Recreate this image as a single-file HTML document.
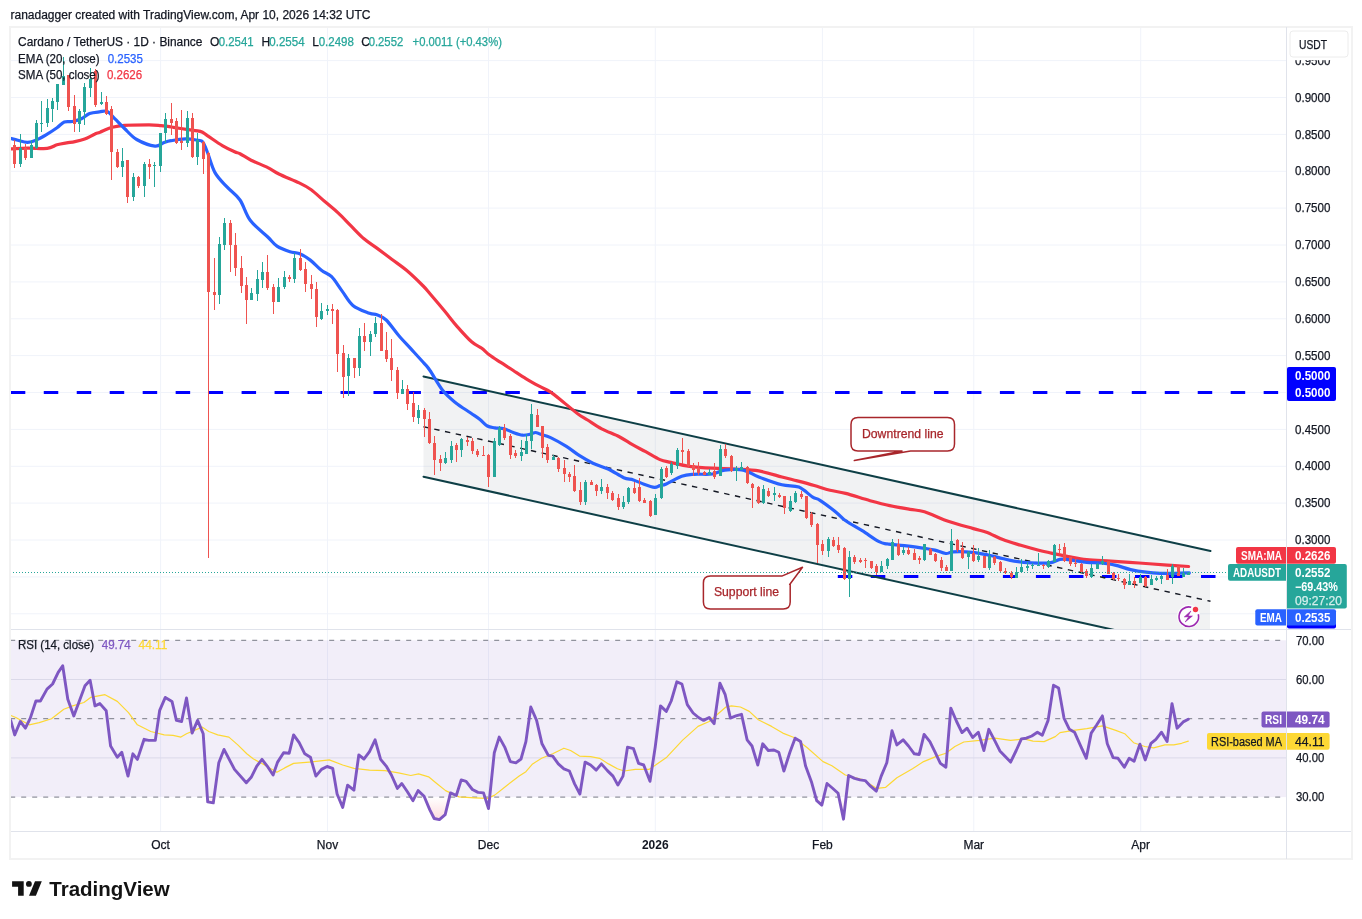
<!DOCTYPE html>
<html><head><meta charset="utf-8"><style>
html,body{margin:0;padding:0;background:#fff;width:1362px;height:919px;overflow:hidden;position:relative}
text{font-family:"Liberation Sans",sans-serif}
</style></head><body>
<svg width="1362" height="919" viewBox="0 0 1362 919" style="position:absolute;left:0;top:0;will-change:transform" font-family="Liberation Sans, sans-serif">
<defs><clipPath id="main"><rect x="10" y="27" width="1276" height="602"/></clipPath><clipPath id="rsi"><rect x="10" y="630" width="1276" height="201"/></clipPath><linearGradient id="os" x1="0" y1="0" x2="0" y2="1"><stop offset="0" stop-color="#f23645" stop-opacity="0"/><stop offset="1" stop-color="#f23645" stop-opacity="0.18"/></linearGradient></defs>
<rect width="1362" height="919" fill="#fff"/>
<text x="10.5" y="19" font-size="12" fill="#131722" text-anchor="start" font-weight="400" textLength="360" lengthAdjust="spacingAndGlyphs" stroke="#131722" stroke-width="0.25" >ranadagger created with TradingView.com, Apr 10, 2026 14:32 UTC</text>
<line x1="10" y1="60.6" x2="1286" y2="60.6" stroke="#f0f3fa" stroke-width="1"/>
<line x1="10" y1="97.5" x2="1286" y2="97.5" stroke="#f0f3fa" stroke-width="1"/>
<line x1="10" y1="134.4" x2="1286" y2="134.4" stroke="#f0f3fa" stroke-width="1"/>
<line x1="10" y1="171.3" x2="1286" y2="171.3" stroke="#f0f3fa" stroke-width="1"/>
<line x1="10" y1="208.1" x2="1286" y2="208.1" stroke="#f0f3fa" stroke-width="1"/>
<line x1="10" y1="245.0" x2="1286" y2="245.0" stroke="#f0f3fa" stroke-width="1"/>
<line x1="10" y1="281.9" x2="1286" y2="281.9" stroke="#f0f3fa" stroke-width="1"/>
<line x1="10" y1="318.8" x2="1286" y2="318.8" stroke="#f0f3fa" stroke-width="1"/>
<line x1="10" y1="355.6" x2="1286" y2="355.6" stroke="#f0f3fa" stroke-width="1"/>
<line x1="10" y1="392.5" x2="1286" y2="392.5" stroke="#f0f3fa" stroke-width="1"/>
<line x1="10" y1="429.4" x2="1286" y2="429.4" stroke="#f0f3fa" stroke-width="1"/>
<line x1="10" y1="466.3" x2="1286" y2="466.3" stroke="#f0f3fa" stroke-width="1"/>
<line x1="10" y1="503.1" x2="1286" y2="503.1" stroke="#f0f3fa" stroke-width="1"/>
<line x1="10" y1="540.0" x2="1286" y2="540.0" stroke="#f0f3fa" stroke-width="1"/>
<line x1="10" y1="576.9" x2="1286" y2="576.9" stroke="#f0f3fa" stroke-width="1"/>
<line x1="10" y1="613.8" x2="1286" y2="613.8" stroke="#f0f3fa" stroke-width="1"/>
<line x1="160.6" y1="27" x2="160.6" y2="831" stroke="#f0f3fa" stroke-width="1"/>
<line x1="327.5" y1="27" x2="327.5" y2="831" stroke="#f0f3fa" stroke-width="1"/>
<line x1="488.5" y1="27" x2="488.5" y2="831" stroke="#f0f3fa" stroke-width="1"/>
<line x1="655.3" y1="27" x2="655.3" y2="831" stroke="#f0f3fa" stroke-width="1"/>
<line x1="822.4" y1="27" x2="822.4" y2="831" stroke="#f0f3fa" stroke-width="1"/>
<line x1="973.8" y1="27" x2="973.8" y2="831" stroke="#f0f3fa" stroke-width="1"/>
<line x1="1140.7" y1="27" x2="1140.7" y2="831" stroke="#f0f3fa" stroke-width="1"/>
<line x1="10" y1="679.5" x2="1286" y2="679.5" stroke="#e6e8ee" stroke-width="1"/>
<line x1="10" y1="757.9" x2="1286" y2="757.9" stroke="#e6e8ee" stroke-width="1"/>
<rect x="10" y="640.3" width="1276" height="156.8" fill="#7e57c2" fill-opacity="0.1"/>
<line x1="10.2" y1="640.3" x2="1286" y2="640.3" stroke="#787b86" stroke-width="1" stroke-dasharray="5 6"/>
<line x1="10.2" y1="718.7" x2="1286" y2="718.7" stroke="#787b86" stroke-width="1" stroke-dasharray="5 6"/>
<line x1="10.2" y1="797.1" x2="1286" y2="797.1" stroke="#787b86" stroke-width="1" stroke-dasharray="5 6"/>
<g clip-path="url(#main)">
<polygon points="423.5,376.5 1210,551.0 1210,651.2 423.5,476.7" fill="#787b86" fill-opacity="0.1"/>
<line x1="10.8" y1="392.5" x2="1286" y2="392.5" stroke="#0000ff" stroke-width="3" stroke-dasharray="14.5 18.47"/>
<line x1="837.8" y1="576.5" x2="1216" y2="576.5" stroke="#0000ff" stroke-width="3" stroke-dasharray="14.5 18.52"/>
<line x1="423.5" y1="376.5" x2="1210.5" y2="551.1" stroke="#0e3f46" stroke-width="2" stroke-linecap="round"/>
<line x1="423.5" y1="476.7" x2="1210.5" y2="651.3" stroke="#0e3f46" stroke-width="2" stroke-linecap="round"/>
<line x1="423.5" y1="426.7" x2="1210.5" y2="601.3" stroke="#131722" stroke-width="1.4" stroke-dasharray="5.4 5.6"/>
<path d="M10.4,148.9 C13.3,148.8 21.5,148.2 27.6,148.1 C33.7,148.0 42.3,148.9 47.2,148.4 C52.1,147.9 53.8,145.7 57.0,144.8 C60.2,143.9 63.7,143.4 66.7,142.9 C69.7,142.4 71.9,142.2 74.9,141.6 C77.9,141.0 81.4,140.3 84.7,139.1 C88.0,137.9 92.0,135.3 94.5,134.2 C97.0,133.0 97.0,133.3 100.0,132.2 C103.0,131.0 108.1,128.4 112.2,127.3 C116.3,126.2 118.4,125.7 124.5,125.3 C130.6,124.9 142.9,124.8 149.0,124.8 C155.1,124.8 156.9,125.2 161.0,125.6 C165.1,126.0 168.9,126.6 173.4,127.3 C177.9,128.0 183.5,129.0 188.0,129.7 C192.5,130.4 197.0,130.4 200.3,131.4 C203.6,132.4 204.0,133.5 207.7,135.9 C211.4,138.3 217.8,142.9 222.3,145.6 C226.8,148.2 231.7,150.5 234.6,151.8 C237.5,153.2 237.2,152.3 240.0,153.7 C242.8,155.1 246.5,157.9 251.1,160.2 C255.7,162.5 263.2,165.3 267.8,167.6 C272.4,169.9 273.7,171.4 278.9,174.0 C284.1,176.6 293.8,180.3 299.2,182.9 C304.6,185.5 306.9,186.7 311.2,189.8 C315.5,193.0 320.6,198.0 325.1,201.8 C329.6,205.7 333.8,208.9 338.1,212.9 C342.4,216.9 346.7,221.6 351.0,225.9 C355.3,230.2 359.7,235.1 364.0,238.8 C368.3,242.5 372.3,244.7 376.9,248.1 C381.5,251.5 386.8,255.5 391.7,259.2 C396.6,262.9 401.2,265.8 406.5,270.3 C411.8,274.8 419.3,282.1 423.2,286.0 C427.1,289.9 426.4,289.5 430.0,293.7 C433.6,297.9 440.3,305.9 444.8,311.3 C449.3,316.7 452.3,321.0 456.8,326.1 C461.3,331.2 467.4,338.1 471.6,341.8 C475.8,345.5 478.9,346.1 481.8,348.3 C484.7,350.5 486.1,352.5 489.2,354.8 C492.3,357.1 496.3,359.6 500.3,362.2 C504.3,364.8 509.0,367.7 513.3,370.5 C517.6,373.3 521.9,376.2 526.2,378.8 C530.5,381.4 535.2,384.0 539.2,386.2 C543.2,388.4 546.3,389.2 550.3,391.8 C554.3,394.4 558.6,398.2 563.2,401.9 C567.8,405.6 573.9,411.0 578.0,414.0 C582.1,417.0 583.6,417.5 587.6,420.0 C591.6,422.5 596.4,426.0 601.7,428.8 C607.0,431.6 614.2,434.1 619.3,436.7 C624.4,439.3 628.1,442.2 632.5,444.7 C636.9,447.2 641.1,449.2 645.7,451.7 C650.3,454.2 655.8,457.8 660.0,459.6 C664.2,461.4 666.0,461.3 670.9,462.4 C675.8,463.5 682.5,465.4 689.4,466.3 C696.3,467.2 704.8,467.7 712.5,468.1 C720.2,468.6 727.9,468.5 735.6,469.0 C743.3,469.5 751.1,469.6 758.8,470.9 C766.5,472.2 775.5,475.3 781.9,477.0 C788.3,478.7 791.9,479.5 797.3,480.9 C802.7,482.3 808.8,483.9 814.3,485.5 C819.8,487.1 824.8,488.9 830.0,490.2 C835.2,491.5 838.9,491.6 845.6,493.4 C852.3,495.1 862.8,498.7 870.1,500.7 C877.5,502.7 883.1,504.2 889.7,505.6 C896.4,507.0 904.2,508.3 910.0,509.3 C915.8,510.3 918.0,509.8 924.5,511.8 C931.0,513.9 940.9,518.8 949.0,521.6 C957.1,524.4 967.1,526.8 973.4,528.6 C979.6,530.4 981.6,530.4 986.5,532.2 C991.4,534.0 997.1,537.4 1002.8,539.6 C1008.5,541.8 1014.8,543.5 1020.8,545.3 C1026.8,547.1 1033.6,548.9 1038.7,550.2 C1043.8,551.5 1046.4,552.0 1051.3,553.1 C1056.2,554.2 1062.4,555.5 1068.3,556.6 C1074.2,557.7 1079.6,559.0 1086.7,559.7 C1093.8,560.5 1102.1,560.6 1110.8,561.1 C1119.5,561.6 1129.6,562.3 1139.0,563.0 C1148.4,563.7 1159.1,564.5 1167.4,565.1 C1175.7,565.7 1185.1,566.3 1188.6,566.5" fill="none" stroke="#f23645" stroke-width="3.2" stroke-linejoin="round" stroke-linecap="round"/>
<path d="M10.4,138.3 C11.6,138.6 14.9,139.6 17.8,140.3 C20.7,141.0 24.5,142.5 27.6,142.4 C30.7,142.3 33.2,141.4 36.5,140.0 C39.8,138.6 43.8,136.2 47.2,134.2 C50.6,132.1 54.1,129.7 57.0,127.7 C59.9,125.7 61.7,123.0 64.3,122.0 C66.9,121.0 69.6,122.0 72.4,121.5 C75.2,121.0 78.5,120.0 81.4,118.7 C84.3,117.4 86.6,114.6 89.6,113.5 C92.6,112.4 96.5,112.2 99.4,111.9 C102.4,111.6 104.8,110.3 107.3,111.4 C109.8,112.5 111.8,115.9 114.7,118.7 C117.6,121.5 120.8,125.0 124.5,128.5 C128.2,132.0 131.6,136.6 136.7,139.5 C141.8,142.4 150.5,145.6 155.0,146.1 C159.5,146.6 160.9,143.6 163.6,142.7 C166.3,141.8 167.3,141.3 171.0,140.7 C174.7,140.0 181.1,138.9 185.6,138.8 C190.1,138.7 195.0,139.8 197.9,140.3 C200.8,140.8 201.2,139.9 202.8,142.0 C204.4,144.1 205.7,147.9 207.7,153.0 C209.7,158.1 211.8,166.9 215.0,172.6 C218.2,178.3 223.0,182.6 227.2,187.2 C231.4,191.8 236.2,194.5 240.0,200.0 C243.8,205.5 245.6,214.1 250.2,220.3 C254.8,226.5 263.3,232.7 267.8,237.0 C272.3,241.3 273.3,243.7 277.0,246.2 C280.7,248.7 286.3,250.6 290.0,251.8 C293.7,253.0 295.8,252.2 299.2,253.6 C302.6,255.0 306.6,257.3 310.3,260.1 C314.0,262.9 317.8,267.5 321.4,270.3 C324.9,273.1 328.2,273.3 331.6,276.7 C335.0,280.1 338.2,285.8 341.8,290.6 C345.4,295.4 348.3,301.6 352.9,305.4 C357.5,309.2 365.5,311.6 369.5,313.2 C373.5,314.8 374.1,313.6 376.9,314.7 C379.7,315.8 382.6,316.5 386.2,320.0 C389.8,323.5 394.6,330.7 398.7,335.5 C402.8,340.3 406.7,344.2 411.0,348.9 C415.3,353.6 421.2,360.0 424.4,363.6 C427.6,367.2 426.9,366.0 430.0,370.5 C433.1,375.0 438.7,385.4 443.0,390.8 C447.3,396.2 451.3,399.2 455.9,402.9 C460.5,406.6 466.7,410.2 470.7,413.0 C474.7,415.8 477.2,417.3 480.0,419.5 C482.8,421.7 484.9,424.6 487.4,426.0 C489.9,427.4 492.0,427.3 494.8,427.8 C497.6,428.3 500.9,428.0 504.0,428.8 C507.1,429.6 510.2,431.4 513.3,432.5 C516.4,433.6 519.7,434.9 522.5,435.2 C525.3,435.5 527.7,434.8 529.9,434.3 C532.1,433.9 533.8,432.5 535.5,432.5 C537.2,432.5 537.5,433.2 540.0,434.1 C542.5,435.0 546.2,435.6 550.6,437.6 C555.0,439.7 561.6,443.4 566.4,446.4 C571.2,449.4 575.2,452.9 579.6,455.7 C584.0,458.5 588.0,460.9 592.9,463.2 C597.8,465.5 603.6,466.9 608.7,469.3 C613.8,471.7 619.6,475.9 623.7,477.7 C627.8,479.5 630.0,478.8 633.4,479.9 C636.8,481.0 640.5,483.1 644.0,484.3 C647.5,485.6 651.8,487.2 654.5,487.4 C657.2,487.6 658.0,486.2 660.0,485.6 C662.0,485.0 662.7,485.6 666.3,484.0 C669.9,482.4 677.1,477.9 681.7,476.3 C686.3,474.7 688.9,474.7 694.0,474.3 C699.1,473.9 707.4,474.7 712.5,474.0 C717.6,473.3 719.7,470.8 724.8,470.1 C729.9,469.5 737.6,469.0 743.3,470.1 C749.0,471.2 752.4,474.6 758.8,477.0 C765.2,479.4 775.2,483.1 781.9,484.8 C788.6,486.5 793.7,485.1 798.8,487.1 C803.9,489.2 809.2,494.9 812.7,497.1 C816.2,499.3 816.0,497.7 820.0,500.3 C824.0,502.9 832.7,509.5 836.9,512.9 C841.1,516.3 841.1,517.5 845.3,520.5 C849.5,523.5 856.6,527.2 862.2,530.7 C867.8,534.2 874.9,539.5 879.1,541.7 C883.3,543.9 883.3,543.2 887.5,543.9 C891.7,544.5 898.2,544.9 904.4,545.6 C910.6,546.4 919.6,547.6 924.7,548.4 C929.8,549.1 931.3,549.2 934.8,550.1 C938.3,551.0 942.7,553.2 945.8,553.5 C948.9,553.8 949.0,552.0 953.4,551.8 C957.8,551.6 966.1,551.7 972.0,552.3 C977.9,552.9 983.8,554.2 988.9,555.2 C994.0,556.2 998.2,557.5 1002.4,558.5 C1006.6,559.5 1009.4,560.4 1014.2,561.1 C1019.0,561.8 1025.1,562.5 1031.1,562.8 C1037.1,563.1 1045.2,563.4 1050.0,562.8 C1054.8,562.2 1056.8,559.9 1059.8,559.4 C1062.8,558.9 1063.8,559.2 1068.3,559.7 C1072.8,560.2 1081.3,561.8 1086.7,562.3 C1092.1,562.8 1096.1,562.5 1100.8,563.0 C1105.5,563.5 1110.0,564.0 1115.0,565.1 C1120.0,566.2 1125.4,568.4 1130.6,569.6 C1135.8,570.8 1141.1,571.6 1146.1,572.2 C1151.0,572.8 1155.6,573.1 1160.3,573.3 C1165.0,573.5 1169.6,573.4 1174.4,573.3 C1179.2,573.2 1186.8,573.0 1189.3,572.9" fill="none" stroke="#2962ff" stroke-width="3.2" stroke-linejoin="round" stroke-linecap="round"/>
<path d="M20.5,134V167M31.5,140V158M36.5,120V149M41.5,101V132M47.5,99V127M52.5,98V122M57.5,84V110M63.5,57V85M79.5,109V132M84.5,83V125M90.5,68V97M101.5,92V105M122.5,148V177M133.5,173V201M144.5,162V197M154.5,162V187M160.5,133V172M165.5,113V143M187.5,111V147M197.5,133V165M219.5,237V304M224.5,218V250M251.5,288V300M257.5,270V301M262.5,262V288M278.5,278V302M284.5,271V289M294.5,253V283M321.5,303V320M327.5,305V315M348.5,354V396M359.5,328V376M370.5,331V356M375.5,317V337M402.5,380V394M418.5,405V424M445.5,452V464M451.5,441V463M461.5,438V457M494.5,438V477M499.5,426V446M521.5,440V461M526.5,434V454M531.5,404V449M553.5,455V460M585.5,480V505M601.5,479V494M623.5,496V509M628.5,487V504M655.5,494V515M661.5,467V499M671.5,462V475M677.5,448V469M709.5,469V475M720.5,445V476M736.5,466V481M741.5,462V470M763.5,485V504M774.5,487V501M790.5,496V512M795.5,491V503M828.5,537V557M849.5,551V597M881.5,561V572M887.5,558V569M892.5,539V560M903.5,547V555M924.5,544V561M951.5,529V571M968.5,551V569M978.5,548V562M989.5,550V570M1016.5,567V578M1021.5,559V572M1027.5,562V571M1032.5,563V569M1038.5,553V566M1048.5,560V568M1054.5,544V562M1091.5,564V578M1097.5,563V569M1102.5,556V565M1129.5,574V585M1140.5,574V583M1151.5,575V585M1156.5,576V581M1161.5,575V584M1172.5,564V584M1183.5,568V577M1188.5,572V575" stroke="#26a69a" stroke-width="1" fill="none"/>
<path d="M19,148h3v16h-3zM30,145h3v13h-3zM35,123h3v25h-3zM40,123h3v1h-3zM46,108h3v15h-3zM51,101h3v8h-3zM56,84h3v18h-3zM62,76h3v9h-3zM78,111h3v13h-3zM83,87h3v25h-3zM89,79h3v9h-3zM100,102h3v2h-3zM121,161h3v6h-3zM132,177h3v20h-3zM143,164h3v22h-3zM153,165h3v1h-3zM159,133h3v33h-3zM164,119h3v14h-3zM186,118h3v25h-3zM196,140h3v17h-3zM218,244h3v51h-3zM223,223h3v22h-3zM250,293h3v7h-3zM256,279h3v15h-3zM261,272h3v8h-3zM277,287h3v15h-3zM283,277h3v10h-3zM293,258h3v21h-3zM320,311h3v8h-3zM326,309h3v2h-3zM347,358h3v18h-3zM358,336h3v32h-3zM369,334h3v8h-3zM374,323h3v11h-3zM401,389h3v5h-3zM417,410h3v8h-3zM444,458h3v5h-3zM450,446h3v14h-3zM460,439h3v11h-3zM493,441h3v36h-3zM498,428h3v17h-3zM520,452h3v4h-3zM525,441h3v13h-3zM530,414h3v27h-3zM552,457h3v3h-3zM584,482h3v20h-3zM600,487h3v4h-3zM622,502h3v5h-3zM627,488h3v14h-3zM654,498h3v17h-3zM660,469h3v29h-3zM670,464h3v9h-3zM676,450h3v16h-3zM708,472h3v3h-3zM719,449h3v27h-3zM735,468h3v3h-3zM740,467h3v3h-3zM762,489h3v14h-3zM773,493h3v2h-3zM789,501h3v10h-3zM794,493h3v9h-3zM827,539h3v12h-3zM848,557h3v22h-3zM880,566h3v6h-3zM886,559h3v7h-3zM891,542h3v18h-3zM902,550h3v3h-3zM923,544h3v16h-3zM950,541h3v30h-3zM967,552h3v5h-3zM977,556h3v4h-3zM988,556h3v12h-3zM1015,572h3v6h-3zM1020,567h3v5h-3zM1026,566h3v2h-3zM1031,565h3v1h-3zM1037,565h3v1h-3zM1047,561h3v6h-3zM1053,545h3v17h-3zM1090,568h3v9h-3zM1096,564h3v5h-3zM1101,561h3v3h-3zM1128,581h3v4h-3zM1139,577h3v6h-3zM1150,579h3v6h-3zM1155,578h3v2h-3zM1160,576h3v3h-3zM1171,566h3v11h-3zM1182,573h3v4h-3zM1187,573h3v2h-3z" fill="#26a69a"/>
<path d="M14.5,140V168M25.5,144V160M68.5,75V111M74.5,95V132M95.5,69V107M106.5,96V115M111.5,106V180M117.5,149V168M127.5,160V203M138.5,176V188M149.5,159V179M171.5,103V135M176.5,118V144M181.5,110V150M192.5,113V158M203.5,141V174M208.5,152V558M214.5,258V310M230.5,220V272M235.5,233V276M241.5,256V293M246.5,277V324M267.5,255V290M273.5,284V314M289.5,275V282M300.5,249V271M305.5,262V292M311.5,275V299M316.5,282V327M332.5,304V324M337.5,309V372M343.5,345V398M354.5,358V378M364.5,323V351M381.5,314V351M386.5,332V362M391.5,339V381M397.5,367V399M407.5,385V410M413.5,392V422M424.5,408V437M429.5,412V444M434.5,436V475M440.5,455V471M456.5,443V462M467.5,437V446M472.5,438V454M477.5,449V457M483.5,446V456M488.5,454V487M504.5,424V440M510.5,434V459M515.5,450V458M537.5,409V427M542.5,426V458M547.5,444V463M558.5,457V472M564.5,460V482M569.5,472V482M574.5,465V492M580.5,482V505M591.5,480V485M596.5,484V496M607.5,484V499M612.5,491V501M618.5,494V510M634.5,482V494M639.5,478V502M644.5,498V503M650.5,500V517M666.5,466V478M682.5,438V464M688.5,449V467M693.5,463V476M698.5,462V475M704.5,471V475M714.5,463V479M725.5,444V458M731.5,455V472M747.5,466V484M752.5,483V508M758.5,486V504M768.5,488V497M779.5,493V498M784.5,496V514M801.5,491V499M806.5,496V519M811.5,512V527M817.5,523V563M822.5,540V555M833.5,537V547M838.5,537V553M844.5,547V580M854.5,555V564M860.5,558V563M865.5,558V568M871.5,561V569M876.5,564V575M898.5,539V556M908.5,547V555M914.5,549V560M919.5,556V564M930.5,548V555M935.5,553V562M941.5,557V571M946.5,565V571M957.5,539V552M962.5,542V559M973.5,545V562M984.5,556V568M994.5,556V565M1000.5,561V572M1005.5,568V574M1011.5,571V579M1043.5,564V569M1059.5,544V553M1064.5,543V562M1070.5,557V566M1075.5,559V567M1081.5,563V573M1086.5,569V578M1108.5,561V574M1113.5,572V580M1118.5,574V581M1124.5,578V589M1134.5,577V588M1145.5,576V587M1167.5,569V580M1178.5,566V576" stroke="#ef5350" stroke-width="1" fill="none"/>
<path d="M13,145h3v19h-3zM24,148h3v10h-3zM67,75h3v32h-3zM73,106h3v18h-3zM94,71h3v34h-3zM105,102h3v12h-3zM110,109h3v43h-3zM116,152h3v15h-3zM126,160h3v37h-3zM137,177h3v9h-3zM148,164h3v3h-3zM170,119h3v4h-3zM175,121h3v22h-3zM180,141h3v2h-3zM191,118h3v39h-3zM202,142h3v17h-3zM207,153h3v139h-3zM213,292h3v3h-3zM229,223h3v22h-3zM234,245h3v23h-3zM240,268h3v18h-3zM245,285h3v15h-3zM266,272h3v16h-3zM272,287h3v15h-3zM288,277h3v2h-3zM299,258h3v12h-3zM304,269h3v15h-3zM310,284h3v5h-3zM315,289h3v28h-3zM331,309h3v2h-3zM336,310h3v44h-3zM342,353h3v24h-3zM353,358h3v10h-3zM363,336h3v6h-3zM380,323h3v28h-3zM385,350h3v9h-3zM390,358h3v12h-3zM396,370h3v23h-3zM406,389h3v15h-3zM412,403h3v14h-3zM423,410h3v9h-3zM428,419h3v24h-3zM433,443h3v17h-3zM439,459h3v4h-3zM455,445h3v5h-3zM466,440h3v2h-3zM471,441h3v10h-3zM476,451h3v4h-3zM482,455h3v1h-3zM487,455h3v22h-3zM503,428h3v10h-3zM509,436h3v19h-3zM514,453h3v3h-3zM536,415h3v12h-3zM541,426h3v22h-3zM546,447h3v13h-3zM557,458h3v11h-3zM563,468h3v6h-3zM568,474h3v3h-3zM573,476h3v15h-3zM579,490h3v12h-3zM590,482h3v3h-3zM595,485h3v6h-3zM606,487h3v6h-3zM611,493h3v7h-3zM617,498h3v9h-3zM633,488h3v5h-3zM638,487h3v14h-3zM643,500h3v3h-3zM649,501h3v15h-3zM665,468h3v9h-3zM681,450h3v2h-3zM687,451h3v15h-3zM692,465h3v5h-3zM697,468h3v5h-3zM703,472h3v3h-3zM713,471h3v6h-3zM724,449h3v7h-3zM730,456h3v15h-3zM746,467h3v16h-3zM751,484h3v4h-3zM757,487h3v16h-3zM767,491h3v5h-3zM778,495h3v2h-3zM783,496h3v12h-3zM800,494h3v3h-3zM805,496h3v22h-3zM810,514h3v11h-3zM816,524h3v21h-3zM821,544h3v7h-3zM832,540h3v6h-3zM837,545h3v5h-3zM843,548h3v31h-3zM853,557h3v5h-3zM859,560h3v2h-3zM864,560h3v1h-3zM870,561h3v7h-3zM875,566h3v6h-3zM897,544h3v11h-3zM907,550h3v4h-3zM913,553h3v7h-3zM918,558h3v2h-3zM929,549h3v6h-3zM934,554h3v7h-3zM940,560h3v8h-3zM945,567h3v4h-3zM956,540h3v10h-3zM961,548h3v10h-3zM972,553h3v8h-3zM983,556h3v12h-3zM993,557h3v6h-3zM999,562h3v9h-3zM1004,571h3v2h-3zM1010,573h3v4h-3zM1042,565h3v1h-3zM1058,549h3v1h-3zM1063,547h3v14h-3zM1069,557h3v7h-3zM1074,563h3v1h-3zM1080,564h3v8h-3zM1085,571h3v5h-3zM1107,561h3v13h-3zM1112,573h3v6h-3zM1117,578h3v1h-3zM1123,579h3v6h-3zM1133,581h3v3h-3zM1144,577h3v9h-3zM1166,575h3v5h-3zM1177,566h3v10h-3z" fill="#ef5350"/>
<line x1="10" y1="572.5" x2="1228" y2="572.5" stroke="#26a69a" stroke-width="1" stroke-dasharray="1 2"/>
</g>
<path d="M858,417.6 H947.5 Q954.5,417.6 954.5,424.6 V444 Q954.5,451 947.5,451 H910.6 L854.3,460.6 L902,451 H858 Q851,451 851,444 V424.6 Q851,417.6 858,417.6 Z" fill="#fff" stroke="#a8262b" stroke-width="1.5" stroke-linejoin="round"/>
<text x="862" y="438" font-size="12" fill="#a8262b" text-anchor="start" font-weight="400" textLength="81.5" lengthAdjust="spacingAndGlyphs" stroke="#a8262b" stroke-width="0.25" >Downtrend line</text>
<path d="M710.4,576.1 H781.8 L802.5,567.3 L789.7,584.5 H790.2 V601.9 Q790.2,608.9 783.2,608.9 H710.4 Q703.4,608.9 703.4,601.9 V583.1 Q703.4,576.1 710.4,576.1 Z" fill="#fff" stroke="#a8262b" stroke-width="1.5" stroke-linejoin="round"/>
<text x="713.9" y="596" font-size="12" fill="#a8262b" text-anchor="start" font-weight="400" textLength="65.2" lengthAdjust="spacingAndGlyphs" stroke="#a8262b" stroke-width="0.25" >Support line</text>
<circle cx="1188.6" cy="616.3" r="11.5" fill="#fff" fill-opacity="0.85"/>
<path d="M1191.2,607.2 A9.8,9.8 0 1 0 1198.3,614.2" fill="none" stroke="#9c27b0" stroke-width="1.6"/>
<path d="M1190.9,611 L1184.3,616.9 L1188.7,616.7 L1185.2,622 L1192.4,616 L1188.1,616.1 Z" fill="#9c27b0" stroke="#9c27b0" stroke-width="0.6" stroke-linejoin="round"/>
<circle cx="1195.5" cy="609.5" r="2.7" fill="#f23645"/>
<g clip-path="url(#rsi)">
<polygon points="207.4,797.1 207.7,801.8 213.3,802.9 214.1,797.1" fill="url(#os)"/>
<polygon points="338.4,797.1 342.7,807.4 345.0,797.1" fill="url(#os)"/>
<polygon points="410.7,797.1 413.0,800.7 414.8,797.1" fill="url(#os)"/>
<polygon points="424.5,797.1 429.7,809.6 434.2,818.5 439.4,819.6 445.2,814.7 449.5,797.1" fill="url(#os)"/>
<polygon points="484.8,797.1 488.5,808.5 489.7,797.1" fill="url(#os)"/>
<polygon points="815.7,797.1 816.7,800.7 821.8,805.1 823.7,797.1" fill="url(#os)"/>
<polygon points="838.9,797.1 843.5,819.2 846.1,797.1" fill="url(#os)"/>
<polyline points="10.2,715.2 15.8,717.5 29.2,724.8 39.2,722.6 51.5,718.8 63.8,709.2 72.7,705.9 83.9,702.5 90.6,697.4 105.0,694.7 117.3,701.4 128.5,712.6 137.4,724.8 150.8,731.5 164.2,734.9 173.1,735.3 180.9,737.1 186.5,733.7 202.1,727.1 208.8,731.5 217.7,734.9 228.9,737.1 237.8,744.9 246.8,753.8 253.5,759.0 264.6,765.0 276.9,772.3 284.7,767.9 293.6,763.4 309.2,762.1 318.2,761.2 329.3,759.9 342.7,765.0 353.9,768.3 369.5,770.1 385.1,770.6 398.5,772.8 410.8,775.5 418.6,773.9 428.6,776.8 436.7,783.5 445.6,790.6 459.0,796.9 474.6,797.8 487.6,798.4 494.7,795.1 505.9,786.2 519.2,776.1 525.9,771.7 532.6,763.9 541.6,758.3 552.7,753.8 563.9,748.2 570.6,750.5 579.5,756.1 590.6,756.7 599.6,758.3 608.5,763.9 617.4,768.8 624.1,771.0 635.3,769.4 648.9,769.4 655.6,765.0 666.8,757.2 682.4,740.4 698.0,726.4 709.2,721.5 718.1,713.7 725.9,707.0 731.5,705.9 740.4,707.0 749.3,711.4 758.3,719.7 771.6,726.4 782.8,733.1 794.0,737.5 807.3,747.8 823.0,761.6 831.9,765.7 845.3,775.0 863.4,779.9 876.8,788.4 885.7,787.3 896.9,777.7 912.5,768.8 923.6,761.6 937.0,756.1 945.9,753.2 954.9,746.5 963.8,742.0 979.4,740.4 995.0,738.2 1010.6,740.4 1024.0,738.9 1033.0,741.1 1044.1,741.6 1055.3,736.6 1060.0,732.6 1073.4,730.4 1086.8,728.6 1102.4,725.9 1115.8,730.4 1124.7,733.7 1133.6,742.7 1144.8,746.5 1153.7,747.8 1164.9,744.9 1173.8,744.9 1181.6,743.3 1188.3,741.1" fill="none" stroke="#fdd835" stroke-width="1.2" stroke-linejoin="round" stroke-linecap="round"/>
<polyline points="10.7,720.4 14.7,734.9 20.3,721.5 25.4,728.2 30.3,718.1 35.9,701.0 40.4,701.0 47.0,689.1 52.6,684.0 58.2,672.4 62.7,665.7 67.8,699.2 73.8,715.9 85.0,685.8 90.1,680.2 95.0,705.9 99.9,703.6 106.2,710.8 110.6,746.0 117.3,757.2 121.8,752.3 128.0,776.1 132.9,753.8 137.4,759.4 144.1,739.3 148.6,740.4 155.3,740.4 159.7,710.3 165.3,697.4 172.0,701.4 176.4,720.4 181.6,721.5 186.5,698.0 192.1,733.1 197.6,720.4 203.2,733.7 207.7,801.8 213.3,802.9 218.8,762.8 224.0,749.4 234.5,769.4 246.3,782.8 251.2,777.3 256.8,766.1 262.0,759.4 268.0,767.2 273.1,775.0 277.6,762.1 283.6,752.7 289.2,753.2 293.6,734.9 299.2,742.7 304.8,753.8 310.4,757.2 315.9,776.1 321.5,769.4 327.1,766.5 332.7,768.3 337.1,794.0 342.7,807.4 347.6,785.1 353.9,790.2 358.8,754.9 363.9,759.0 369.5,751.6 375.1,739.8 380.6,759.4 386.2,766.1 391.4,775.0 397.4,788.4 401.8,783.5 407.4,791.8 413.0,800.7 418.1,790.6 424.1,796.2 429.7,809.6 434.2,818.5 439.4,819.6 445.2,814.7 450.5,792.9 456.3,795.5 461.2,779.9 466.1,781.3 472.4,789.5 478.0,792.4 483.5,792.9 488.5,808.5 494.3,752.7 499.2,737.1 504.7,747.1 510.3,761.6 515.9,762.8 521.0,759.0 525.9,741.6 530.8,707.0 536.6,720.4 542.0,743.8 548.3,755.4 552.7,756.1 558.3,763.9 563.9,768.8 569.4,771.0 574.6,783.9 579.9,794.0 585.1,762.1 590.6,765.0 596.2,770.1 601.4,763.9 607.4,770.6 613.0,776.1 617.9,785.1 623.0,776.1 627.5,747.1 633.5,748.7 638.6,763.4 643.7,765.0 650.0,781.3 655.2,747.1 660.5,705.9 666.3,711.4 671.2,701.0 676.8,681.8 681.9,684.0 687.3,704.7 693.1,713.0 698.5,717.5 703.6,720.4 709.2,717.5 714.1,723.7 719.9,683.1 725.2,694.7 730.4,718.1 735.9,715.9 741.5,714.3 747.1,739.8 752.0,746.0 757.8,765.0 762.7,743.8 768.3,750.5 773.9,750.0 778.8,752.3 783.9,771.0 789.9,752.3 795.1,738.2 800.6,741.6 805.6,766.1 811.4,781.7 816.7,800.7 821.8,805.1 827.0,783.5 832.3,788.0 838.1,793.3 843.5,819.2 848.6,775.5 854.5,778.4 860.0,779.9 865.2,780.6 870.5,786.2 876.3,791.1 881.2,776.1 886.8,762.8 892.0,730.8 896.9,744.9 903.1,739.8 908.5,746.0 914.3,753.8 919.2,754.5 924.1,734.4 929.9,741.6 934.8,751.6 940.4,763.4 945.9,767.2 950.8,708.1 956.6,721.5 962.0,732.6 967.1,728.2 972.7,737.5 978.3,732.2 983.9,750.5 988.8,729.3 994.6,740.4 999.9,750.9 1010.6,762.1 1016.2,750.5 1021.4,738.9 1026.3,738.2 1031.8,736.0 1037.4,732.2 1042.3,735.3 1048.1,720.4 1053.5,685.3 1058.6,688.0 1064.0,718.1 1069.4,729.3 1074.5,732.2 1080.5,745.6 1086.3,758.3 1091.2,733.1 1096.8,724.8 1102.4,715.9 1107.3,743.8 1113.1,757.6 1118.0,758.3 1124.3,767.2 1129.2,758.3 1134.1,761.2 1139.9,744.2 1145.2,759.9 1151.0,743.3 1155.9,739.3 1161.5,732.2 1167.1,741.6 1172.0,703.6 1177.1,728.2 1183.2,721.9 1188.3,719.2" fill="none" stroke="#7e57c2" stroke-width="2.9" stroke-linejoin="round" stroke-linecap="round"/>
</g>
<line x1="10" y1="629.5" x2="1286" y2="629.5" stroke="#e0e3eb" stroke-width="1"/>
<line x1="10" y1="831.5" x2="1352" y2="831.5" stroke="#e0e3eb" stroke-width="1"/>
<line x1="1287" y1="629.5" x2="1352" y2="629.5" stroke="#e0e3eb" stroke-width="1"/>
<rect x="10" y="27" width="1342" height="832" fill="none" stroke="#f2f2f2" stroke-width="2"/>
<text x="1295" y="64.82500000000006" font-size="12" fill="#131722" text-anchor="start" font-weight="400" textLength="35.4" lengthAdjust="spacingAndGlyphs" stroke="#131722" stroke-width="0.25" >0.9500</text>
<text x="1295" y="101.70000000000006" font-size="12" fill="#131722" text-anchor="start" font-weight="400" textLength="35.4" lengthAdjust="spacingAndGlyphs" stroke="#131722" stroke-width="0.25" >0.9000</text>
<text x="1295" y="138.575" font-size="12" fill="#131722" text-anchor="start" font-weight="400" textLength="35.4" lengthAdjust="spacingAndGlyphs" stroke="#131722" stroke-width="0.25" >0.8500</text>
<text x="1295" y="175.45000000000005" font-size="12" fill="#131722" text-anchor="start" font-weight="400" textLength="35.4" lengthAdjust="spacingAndGlyphs" stroke="#131722" stroke-width="0.25" >0.8000</text>
<text x="1295" y="212.325" font-size="12" fill="#131722" text-anchor="start" font-weight="400" textLength="35.4" lengthAdjust="spacingAndGlyphs" stroke="#131722" stroke-width="0.25" >0.7500</text>
<text x="1295" y="249.20000000000002" font-size="12" fill="#131722" text-anchor="start" font-weight="400" textLength="35.4" lengthAdjust="spacingAndGlyphs" stroke="#131722" stroke-width="0.25" >0.7000</text>
<text x="1295" y="286.07500000000005" font-size="12" fill="#131722" text-anchor="start" font-weight="400" textLength="35.4" lengthAdjust="spacingAndGlyphs" stroke="#131722" stroke-width="0.25" >0.6500</text>
<text x="1295" y="322.9500000000001" font-size="12" fill="#131722" text-anchor="start" font-weight="400" textLength="35.4" lengthAdjust="spacingAndGlyphs" stroke="#131722" stroke-width="0.25" >0.6000</text>
<text x="1295" y="359.82500000000005" font-size="12" fill="#131722" text-anchor="start" font-weight="400" textLength="35.4" lengthAdjust="spacingAndGlyphs" stroke="#131722" stroke-width="0.25" >0.5500</text>
<text x="1295" y="396.70000000000005" font-size="12" fill="#131722" text-anchor="start" font-weight="400" textLength="35.4" lengthAdjust="spacingAndGlyphs" stroke="#131722" stroke-width="0.25" >0.5000</text>
<text x="1295" y="433.57500000000005" font-size="12" fill="#131722" text-anchor="start" font-weight="400" textLength="35.4" lengthAdjust="spacingAndGlyphs" stroke="#131722" stroke-width="0.25" >0.4500</text>
<text x="1295" y="470.45000000000005" font-size="12" fill="#131722" text-anchor="start" font-weight="400" textLength="35.4" lengthAdjust="spacingAndGlyphs" stroke="#131722" stroke-width="0.25" >0.4000</text>
<text x="1295" y="507.3250000000001" font-size="12" fill="#131722" text-anchor="start" font-weight="400" textLength="35.4" lengthAdjust="spacingAndGlyphs" stroke="#131722" stroke-width="0.25" >0.3500</text>
<text x="1295" y="544.2" font-size="12" fill="#131722" text-anchor="start" font-weight="400" textLength="35.4" lengthAdjust="spacingAndGlyphs" stroke="#131722" stroke-width="0.25" >0.3000</text>
<rect x="1288" y="28" width="63" height="32.2" fill="#fff"/>
<rect x="1290" y="31" width="58" height="26" rx="3" fill="#fff" stroke="#ececec" stroke-width="1"/>
<text x="1299" y="48.5" font-size="12" fill="#131722" text-anchor="start" font-weight="400" textLength="28" lengthAdjust="spacingAndGlyphs" stroke="#131722" stroke-width="0.25" >USDT</text>
<text x="1296" y="644.5000000000001" font-size="12" fill="#131722" text-anchor="start" font-weight="400" textLength="28.3" lengthAdjust="spacingAndGlyphs" stroke="#131722" stroke-width="0.25" >70.00</text>
<text x="1296" y="683.7" font-size="12" fill="#131722" text-anchor="start" font-weight="400" textLength="28.3" lengthAdjust="spacingAndGlyphs" stroke="#131722" stroke-width="0.25" >60.00</text>
<text x="1296" y="762.1000000000001" font-size="12" fill="#131722" text-anchor="start" font-weight="400" textLength="28.3" lengthAdjust="spacingAndGlyphs" stroke="#131722" stroke-width="0.25" >40.00</text>
<text x="1296" y="801.3000000000001" font-size="12" fill="#131722" text-anchor="start" font-weight="400" textLength="28.3" lengthAdjust="spacingAndGlyphs" stroke="#131722" stroke-width="0.25" >30.00</text>
<rect x="1287" y="367" width="49" height="34" rx="2" fill="#0000ff"/>
<text x="1295" y="379.8" font-size="12" fill="#fff" text-anchor="start" font-weight="700" textLength="35.4" lengthAdjust="spacingAndGlyphs" >0.5000</text>
<text x="1295" y="396.8" font-size="12" fill="#fff" text-anchor="start" font-weight="700" textLength="35.4" lengthAdjust="spacingAndGlyphs" >0.5000</text>
<path d="M1238,547 H1287 V563.7 H1238 Q1236,563.7 1236,561.7 V549 Q1236,547 1238,547 Z" fill="#f23645"/>
<path d="M1287,547 H1334 Q1336,547 1336,549 V561.7 Q1336,563.7 1334,563.7 H1287 Z" fill="#f23645"/>
<text x="1241" y="559.5" font-size="12" fill="#fff" text-anchor="start" font-weight="700" textLength="41" lengthAdjust="spacingAndGlyphs" >SMA:MA</text>
<text x="1295" y="559.5" font-size="12" fill="#fff" text-anchor="start" font-weight="700" textLength="35.4" lengthAdjust="spacingAndGlyphs" >0.2626</text>
<path d="M1230,564 H1287 V580.8 H1230 Q1228,580.8 1228,578.8 V566 Q1228,564 1230,564 Z" fill="#26a69a"/>
<path d="M1287,564 H1344.8 Q1346.8,564 1346.8,566 V606.5 Q1346.8,608.5 1344.8,608.5 H1287 Z" fill="#26a69a"/>
<text x="1233" y="576.5" font-size="12" fill="#fff" text-anchor="start" font-weight="700" textLength="48" lengthAdjust="spacingAndGlyphs" >ADAUSDT</text>
<text x="1295" y="576.5" font-size="12" fill="#fff" text-anchor="start" font-weight="700" textLength="35.4" lengthAdjust="spacingAndGlyphs" >0.2552</text>
<text x="1295" y="590.5" font-size="12" fill="#fff" text-anchor="start" font-weight="700" textLength="43" lengthAdjust="spacingAndGlyphs" >−69.43%</text>
<text x="1295" y="604.5" font-size="12" fill="#d4efec" text-anchor="start" font-weight="400" textLength="47" lengthAdjust="spacingAndGlyphs" stroke="#d4efec" stroke-width="0.25" >09:27:20</text>
<rect x="1287" y="612" width="49" height="16.5" rx="2" fill="#0000ff"/>
<path d="M1257.3,609.2 H1287.0 V625.6 H1257.3 Q1255.3,625.6 1255.3,623.6 V611.2 Q1255.3,609.2 1257.3,609.2 Z" fill="#2962ff"/>
<path d="M1287,609.2 H1334 Q1336,609.2 1336,611.2 V623.6 Q1336,625.6 1334,625.6 H1287 Z" fill="#2962ff"/>
<text x="1260" y="621.8" font-size="12" fill="#fff" text-anchor="start" font-weight="700" textLength="22" lengthAdjust="spacingAndGlyphs" >EMA</text>
<text x="1295" y="621.8" font-size="12" fill="#fff" text-anchor="start" font-weight="700" textLength="35.4" lengthAdjust="spacingAndGlyphs" >0.2535</text>
<path d="M1263.5,711.4 H1287.0 V727.6 H1263.5 Q1261.5,727.6 1261.5,725.6 V713.4 Q1261.5,711.4 1263.5,711.4 Z" fill="#7e57c2"/>
<path d="M1287,711.4 H1327.6 Q1329.6,711.4 1329.6,713.4 V725.6 Q1329.6,727.6 1327.6,727.6 H1287 Z" fill="#7e57c2"/>
<text x="1265" y="723.8" font-size="12" fill="#fff" text-anchor="start" font-weight="700" textLength="17" lengthAdjust="spacingAndGlyphs" >RSI</text>
<text x="1295" y="723.8" font-size="12" fill="#fff" text-anchor="start" font-weight="700" textLength="29.5" lengthAdjust="spacingAndGlyphs" >49.74</text>
<path d="M1209,733 H1287 V749.8 H1209 Q1207,749.8 1207,747.8 V735 Q1207,733 1209,733 Z" fill="#fdd835"/>
<path d="M1287,733 H1327.6 Q1329.6,733 1329.6,735 V747.8 Q1329.6,749.8 1327.6,749.8 H1287 Z" fill="#fdd835"/>
<text x="1211" y="745.5" font-size="12" fill="#131722" text-anchor="start" font-weight="400" textLength="71" lengthAdjust="spacingAndGlyphs" stroke="#131722" stroke-width="0.25" >RSI-based MA</text>
<text x="1295" y="745.5" font-size="12" fill="#131722" text-anchor="start" font-weight="400" textLength="29.5" lengthAdjust="spacingAndGlyphs" stroke="#131722" stroke-width="0.25" >44.11</text>
<line x1="1286.5" y1="27" x2="1286.5" y2="859" stroke="#e0e3eb" stroke-width="1"/>
<text x="18.1" y="45.9" font-size="12" fill="#131722" text-anchor="start" font-weight="400" textLength="184.3" lengthAdjust="spacingAndGlyphs" stroke="#131722" stroke-width="0.25" >Cardano / TetherUS · 1D · Binance</text>
<text x="209.9" y="45.9" font-size="12" fill="#131722" text-anchor="start" font-weight="400" stroke="#131722" stroke-width="0.25" >O</text>
<text x="218.8" y="45.9" font-size="12" fill="#26a69a" text-anchor="start" font-weight="400" textLength="34.8" lengthAdjust="spacingAndGlyphs" stroke="#26a69a" stroke-width="0.25" >0.2541</text>
<text x="261.6" y="45.9" font-size="12" fill="#131722" text-anchor="start" font-weight="400" stroke="#131722" stroke-width="0.25" >H</text>
<text x="269.3" y="45.9" font-size="12" fill="#26a69a" text-anchor="start" font-weight="400" textLength="35.3" lengthAdjust="spacingAndGlyphs" stroke="#26a69a" stroke-width="0.25" >0.2554</text>
<text x="312.3" y="45.9" font-size="12" fill="#131722" text-anchor="start" font-weight="400" stroke="#131722" stroke-width="0.25" >L</text>
<text x="318.7" y="45.9" font-size="12" fill="#26a69a" text-anchor="start" font-weight="400" textLength="35.2" lengthAdjust="spacingAndGlyphs" stroke="#26a69a" stroke-width="0.25" >0.2498</text>
<text x="361.2" y="45.9" font-size="12" fill="#131722" text-anchor="start" font-weight="400" stroke="#131722" stroke-width="0.25" >C</text>
<text x="368.7" y="45.9" font-size="12" fill="#26a69a" text-anchor="start" font-weight="400" textLength="34.5" lengthAdjust="spacingAndGlyphs" stroke="#26a69a" stroke-width="0.25" >0.2552</text>
<text x="412.6" y="45.9" font-size="12" fill="#26a69a" text-anchor="start" font-weight="400" textLength="89.3" lengthAdjust="spacingAndGlyphs" stroke="#26a69a" stroke-width="0.25" >+0.0011 (+0.43%)</text>
<text x="18.1" y="62.6" font-size="12" fill="#131722" text-anchor="start" font-weight="400" textLength="81.5" lengthAdjust="spacingAndGlyphs" stroke="#131722" stroke-width="0.25" >EMA (20, close)</text>
<text x="107.7" y="62.6" font-size="12" fill="#2962ff" text-anchor="start" font-weight="400" textLength="35.2" lengthAdjust="spacingAndGlyphs" stroke="#2962ff" stroke-width="0.25" >0.2535</text>
<text x="18.1" y="79.2" font-size="12" fill="#131722" text-anchor="start" font-weight="400" textLength="81.5" lengthAdjust="spacingAndGlyphs" stroke="#131722" stroke-width="0.25" >SMA (50, close)</text>
<text x="106.9" y="79.2" font-size="12" fill="#f23645" text-anchor="start" font-weight="400" textLength="35.3" lengthAdjust="spacingAndGlyphs" stroke="#f23645" stroke-width="0.25" >0.2626</text>
<text x="18" y="649" font-size="12" fill="#131722" text-anchor="start" font-weight="400" textLength="76" lengthAdjust="spacingAndGlyphs" stroke="#131722" stroke-width="0.25" >RSI (14, close)</text>
<text x="101.7" y="649" font-size="12" fill="#7e57c2" text-anchor="start" font-weight="400" textLength="29" lengthAdjust="spacingAndGlyphs" stroke="#7e57c2" stroke-width="0.25" >49.74</text>
<text x="138.5" y="649" font-size="12" fill="#fdd835" text-anchor="start" font-weight="400" textLength="29" lengthAdjust="spacingAndGlyphs" stroke="#fdd835" stroke-width="0.25" >44.11</text>
<text x="160.6" y="848.7" font-size="12" fill="#131722" text-anchor="middle" font-weight="400" stroke="#131722" stroke-width="0.25" >Oct</text>
<text x="327.5" y="848.7" font-size="12" fill="#131722" text-anchor="middle" font-weight="400" stroke="#131722" stroke-width="0.25" >Nov</text>
<text x="488.5" y="848.7" font-size="12" fill="#131722" text-anchor="middle" font-weight="400" stroke="#131722" stroke-width="0.25" >Dec</text>
<text x="655.3" y="848.7" font-size="12" fill="#131722" text-anchor="middle" font-weight="700" >2026</text>
<text x="822.4" y="848.7" font-size="12" fill="#131722" text-anchor="middle" font-weight="400" stroke="#131722" stroke-width="0.25" >Feb</text>
<text x="973.8" y="848.7" font-size="12" fill="#131722" text-anchor="middle" font-weight="400" stroke="#131722" stroke-width="0.25" >Mar</text>
<text x="1140.7" y="848.7" font-size="12" fill="#131722" text-anchor="middle" font-weight="400" stroke="#131722" stroke-width="0.25" >Apr</text>
<path d="M12.1,881.2 H23.7 V895.8 H18.1 V886.7 H12.1 Z" fill="#131313"/>
<circle cx="28.9" cy="883.9" r="2.9" fill="#131313"/>
<path d="M35,881.2 H41.8 L35.9,895.8 H29 Z" fill="#131313"/>
<text x="49.3" y="896" font-size="21" fill="#131313" text-anchor="start" font-weight="700" textLength="120.4" lengthAdjust="spacingAndGlyphs" >TradingView</text>
</svg>
</body></html>
